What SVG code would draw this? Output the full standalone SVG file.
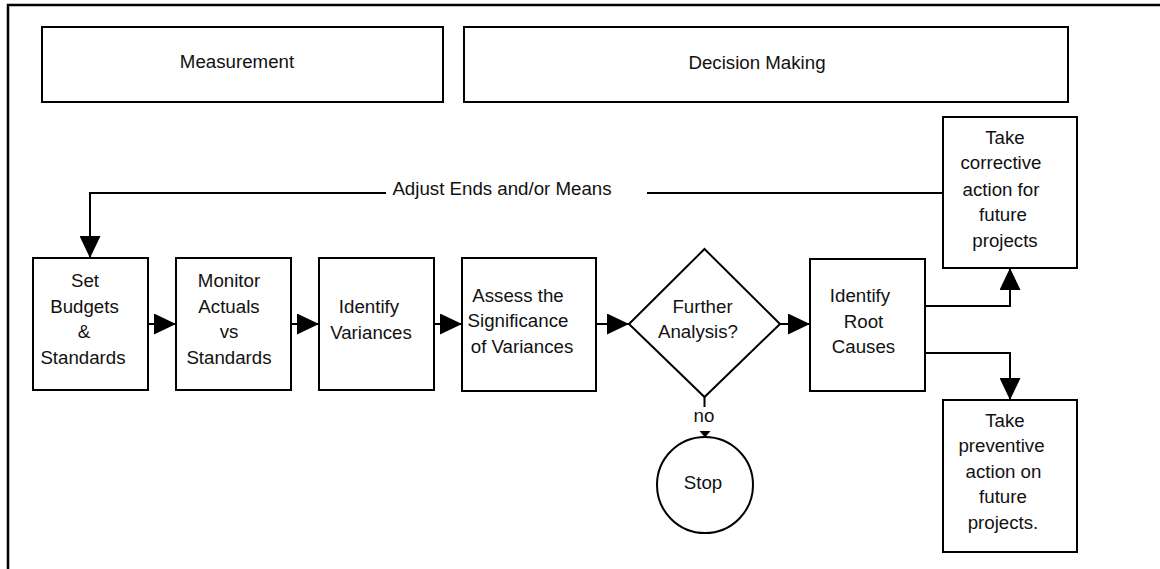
<svg xmlns="http://www.w3.org/2000/svg" width="1160" height="569" viewBox="0 0 1160 569">
  <style>
    .box { fill: #fff; stroke: #000; stroke-width: 2; }
    .frame { fill: none; stroke: #000; stroke-width: 2.5; }
    .conn { fill: none; stroke: #000; stroke-width: 2; }
    text { font-family: "Liberation Sans", Arial, sans-serif; font-size: 18.7px; fill: #111; text-anchor: middle; }
  </style>
  <defs>
    <marker id="arrow" markerUnits="userSpaceOnUse" markerWidth="22" markerHeight="21" refX="22" refY="10.5" orient="auto">
      <path d="M0,0 L22,10.5 L0,21 z" fill="#000"/>
    </marker>
  </defs>

  <rect width="1160" height="569" fill="#fff"/>
  <g id="frame">
    <path class="frame" d="M8,569 V5 H1160"/>
  </g>

  <g id="measurement">
    <rect class="box" x="42" y="27" width="401" height="75"/>
    <text x="237" y="68">Measurement</text>
  </g>
  <g id="decision-making">
    <rect class="box" x="464" y="27" width="604" height="75"/>
    <text x="757" y="69">Decision Making</text>
  </g>

  <g id="set-budgets">
    <rect class="box" x="33" y="258" width="115" height="132"/>
    <text x="85" y="287">Set</text>
    <text x="84.5" y="313">Budgets</text>
    <text x="84" y="338">&amp;</text>
    <text x="83" y="364">Standards</text>
  </g>
  <g id="monitor-actuals">
    <rect class="box" x="176" y="258" width="115" height="132"/>
    <text x="229" y="287">Monitor</text>
    <text x="229" y="313">Actuals</text>
    <text x="229" y="338">vs</text>
    <text x="229" y="364">Standards</text>
  </g>
  <g id="identify-variances">
    <rect class="box" x="319" y="258" width="115" height="132"/>
    <text x="369" y="313">Identify</text>
    <text x="371" y="339">Variances</text>
  </g>
  <g id="assess-significance">
    <rect class="box" x="462" y="258" width="134" height="133"/>
    <text x="518" y="302">Assess the</text>
    <text x="518" y="327">Significance</text>
    <text x="522" y="353">of Variances</text>
  </g>
  <g id="further-analysis">
    <polygon class="box" points="704.5,249 780,324 704.5,397 629,324"/>
    <text x="702.5" y="313">Further</text>
    <text x="698" y="338">Analysis?</text>
  </g>
  <g id="identify-root-causes">
    <rect class="box" x="810" y="259" width="115" height="132"/>
    <text x="860" y="302">Identify</text>
    <text x="863.5" y="328">Root</text>
    <text x="863.5" y="353">Causes</text>
  </g>
  <g id="take-corrective">
    <rect class="box" x="943" y="117" width="134" height="151"/>
    <text x="1005" y="144">Take</text>
    <text x="1001" y="169">corrective</text>
    <text x="1001" y="196">action for</text>
    <text x="1003" y="221">future</text>
    <text x="1005" y="247">projects</text>
  </g>
  <g id="take-preventive">
    <rect class="box" x="943" y="400" width="134" height="152"/>
    <text x="1005" y="427">Take</text>
    <text x="1001.5" y="452">preventive</text>
    <text x="1003.5" y="478">action on</text>
    <text x="1003" y="503">future</text>
    <text x="1003" y="529">projects.</text>
  </g>
  <g id="stop">
    <circle class="box" cx="705" cy="485" r="48"/>
    <text x="703" y="489">Stop</text>
  </g>

  <g id="connectors">
    <path class="conn" d="M943,193 H647"/>
    <path class="conn" d="M386,193 H90 V258" marker-end="url(#arrow)"/>
    <text x="502" y="195">Adjust Ends and/or Means</text>
    <path class="conn" d="M148,324 H176" marker-end="url(#arrow)"/>
    <path class="conn" d="M291,324 H319" marker-end="url(#arrow)"/>
    <path class="conn" d="M434,324 H462" marker-end="url(#arrow)"/>
    <path class="conn" d="M596,324 H629" marker-end="url(#arrow)"/>
    <path class="conn" d="M780,324 H810" marker-end="url(#arrow)"/>
    <path class="conn" d="M925,306 H1010 V268" marker-end="url(#arrow)"/>
    <path class="conn" d="M925,353 H1010 V400" marker-end="url(#arrow)"/>
    <path class="conn" d="M704.5,397 V407"/>
    <text x="704" y="422">no</text>
    <polygon points="699.5,431 710.5,431 705,437.5" fill="#000"/>
  </g>
</svg>
